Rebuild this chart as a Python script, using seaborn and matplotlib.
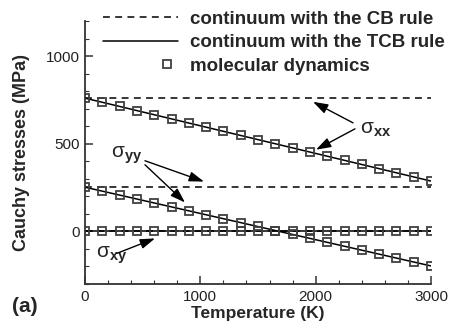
import matplotlib
matplotlib.use("Agg")
import matplotlib.pyplot as plt
import seaborn as sns
from matplotlib.lines import Line2D
from matplotlib.legend_handler import HandlerLine2D
from matplotlib.ticker import MultipleLocator

# ---- data ----
temperature_md = [0, 150, 300, 450, 600, 750, 900, 1050, 1200, 1350, 1500,
                  1650, 1800, 1950, 2100, 2250, 2400, 2550, 2700, 2850, 3000]
sxx_md = [760, 736, 713, 689, 665, 642, 618, 594, 571, 547, 524,
          500, 476, 453, 429, 405, 382, 358, 334, 311, 287]
syy_md = [252, 230, 207, 185, 162, 140, 117, 95, 72, 50, 28,
          5, -17, -40, -62, -85, -107, -130, -152, -175, -197]
sxy_md = [0] * 21

temperature_line = [0, 3000]
sxx_cb = [760, 760]
syy_cb = [252, 252]
sxy_cb = [0, 0]
sxx_tcb = [760, 287]
syy_tcb = [252, -197]
sxy_tcb = [0, 0]

legend_labels = ["continuum with the CB rule", "continuum with the TCB rule",
                 "molecular dynamics"]

sns.set_style("ticks")
plt.rcParams['font.family'] = ['Liberation Sans', 'DejaVu Sans']
plt.rcParams['mathtext.fontset'] = 'custom'
plt.rcParams['mathtext.rm'] = 'Liberation Sans'
plt.rcParams['mathtext.bf'] = 'Liberation Sans:bold'

fig = plt.figure(figsize=(4.5, 3.24), dpi=100)
ax = fig.add_axes([85/450, 40/324, 346/450, 263/324])

DASH = (0, (4.5, 3.5))
line_kw = dict(color="black", linewidth=1.1, ax=ax, legend=False)
for yv in (sxx_cb, syy_cb, sxy_cb):
    sns.lineplot(x=temperature_line, y=yv, linestyle=DASH, **line_kw)
for yv in (sxx_tcb, syy_tcb, sxy_tcb):
    sns.lineplot(x=temperature_line, y=yv, linestyle="-", **line_kw)

MK_EDGE = "#404040"
mk = dict(marker="s", markersize=5.6, markerfacecolor="none",
          markeredgecolor=MK_EDGE, markeredgewidth=1.3, linestyle="",
          ax=ax, legend=False)
for yv in (sxx_md, syy_md, sxy_md):
    sns.lineplot(x=temperature_md, y=yv, **mk)

ax.set_xlim(0, 3000)
ax.set_ylim(-300, 1200)
ax.xaxis.set_major_locator(MultipleLocator(1000))
ax.xaxis.set_minor_locator(MultipleLocator(200))
ax.yaxis.set_major_locator(MultipleLocator(500))
ax.yaxis.set_minor_locator(MultipleLocator(100))
ax.tick_params(which="both", direction="in", color="#333")
ax.tick_params(which="major", length=6, width=1.1, labelsize=11, pad=4,
               labelcolor="#222")
ax.tick_params(which="minor", length=3, width=0.8)
for s in ("top", "right"):
    ax.spines[s].set_visible(False)
for s in ("left", "bottom"):
    ax.spines[s].set_linewidth(1.3)
    ax.spines[s].set_color("#333")
ax.set_yticks([0, 500, 1000])
ax.set_yticklabels(["0", "500", "1000"])

ax.set_xlabel("Temperature (K)", fontsize=12.5, fontweight="bold", labelpad=2)
ax.set_ylabel("Cauchy stresses (MPa)", fontsize=13, fontweight="bold")
ax.yaxis.set_label_coords(-0.159, 0.5)

# annotations
arrow = dict(arrowstyle="-|>,head_length=0.9,head_width=0.3", color="black",
             lw=1.0, shrinkA=0, shrinkB=0)
ax.text(2384, 580, r"$\mathrm{σ}_{\mathbf{xx}}$", fontsize=15, va="center", ha="left")
ax.annotate("", xy=(1977, 739), xytext=(2324, 619), arrowprops=arrow)
ax.annotate("", xy=(2003, 466), xytext=(2341, 585), arrowprops=arrow)

ax.text(225, 437, r"$\mathrm{σ}_{\mathbf{yy}}$", fontsize=15, va="center", ha="left")
ax.annotate("", xy=(1032, 284), xytext=(520, 403), arrowprops=arrow)
ax.annotate("", xy=(867, 165), xytext=(520, 380), arrowprops=arrow)

ax.text(95, -136, r"$\mathrm{σ}_{\mathbf{xy}}$", fontsize=15, va="center", ha="left")
ax.annotate("", xy=(607, -40), xytext=(277, -125), arrowprops=arrow)

fig.text(12/450, 1 - 306/324, "(a)", fontsize=15, fontweight="bold",
         va="center", ha="left")


class MarkerRight(HandlerLine2D):
    def create_artists(self, legend, orig_handle, xdescent, ydescent, width,
                       height, fontsize, trans):
        arts = super().create_artists(legend, orig_handle, xdescent, ydescent,
                                      width, height, fontsize, trans)
        for a in arts:
            if a.get_marker() not in (None, "None", ""):
                a.set_xdata([width - 0.85 * height])
        return arts


handles = [
    Line2D([], [], color="black", lw=1.1, linestyle=DASH),
    Line2D([], [], color="black", lw=1.1, linestyle="-"),
    Line2D([], [], color=MK_EDGE, marker="s", markersize=5.6,
           markerfacecolor="none", markeredgewidth=1.3, linestyle=""),
]
fig.legend(handles, legend_labels, loc="upper left",
           bbox_to_anchor=(0.216, 0.985), frameon=False,
           prop=dict(size=13.5, weight="bold"),
           handlelength=4.0, handletextpad=0.64, labelspacing=0.35,
           borderpad=0.3, borderaxespad=0, numpoints=1,
           handler_map={handles[2]: MarkerRight(numpoints=1)})

fig.savefig("out.png", dpi=100)
